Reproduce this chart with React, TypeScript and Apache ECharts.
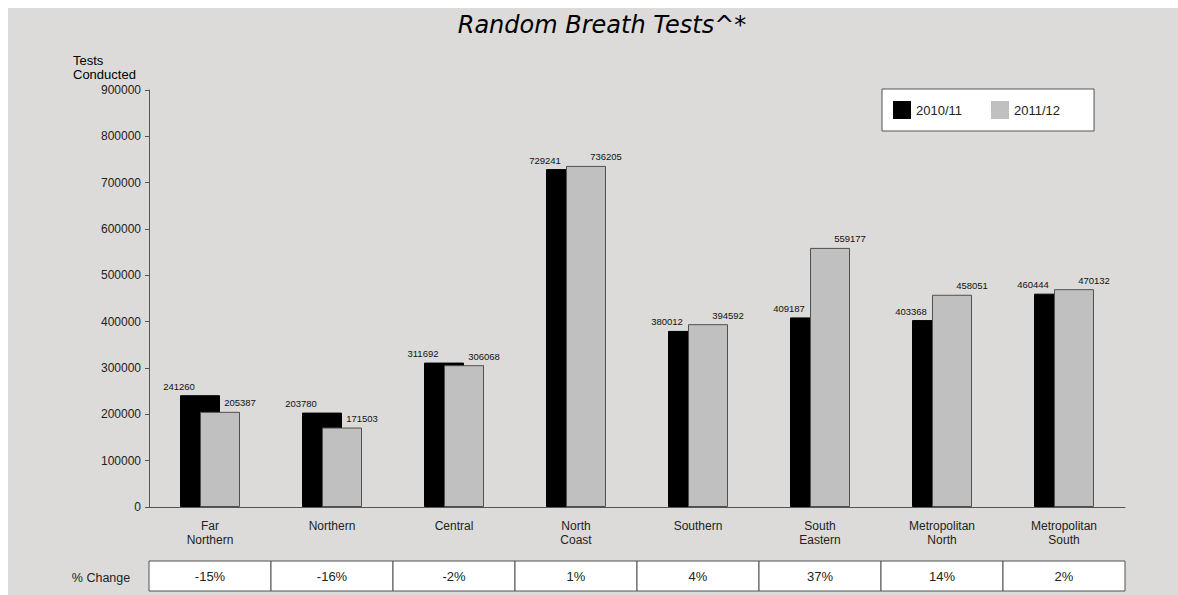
import React, { useEffect, useRef } from "react";
import * as echarts from "echarts";

const categories = [
  "Far\nNorthern",
  "Northern",
  "Central",
  "North\nCoast",
  "Southern",
  "South\nEastern",
  "Metropolitan\nNorth",
  "Metropolitan\nSouth",
];
const series2010 = [241260, 203780, 311692, 729241, 380012, 409187, 403368, 460444];
const series2011 = [205387, 171503, 306068, 736205, 394592, 559177, 458051, 470132];
const pctChange = ["-15%", "-16%", "-2%", "1%", "4%", "37%", "14%", "2%"];
const seriesNames = ["2010/11", "2011/12"];

const FONT = "'Liberation Sans', Arial, sans-serif";

export default function App() {
  const ref = useRef<HTMLDivElement>(null);
  useEffect(() => {
    if (!ref.current) return;
    const chart = echarts.init(ref.current, null, { renderer: "svg" });
    const option: any = {
      animation: false,
      backgroundColor: "#DCDBD9",
      textStyle: { fontFamily: FONT },
      title: {
        text: "Random Breath Tests^*",
        left: 589,
        textAlign: "center",
        top: 0,
        textStyle: {
          fontFamily: "'DejaVu Sans', sans-serif",
          fontStyle: "italic",
          fontWeight: "normal",
          fontSize: 24,
          color: "#000",
        },
      },
      legend: {
        left: 874,
        top: 81,
        orient: "horizontal",
        backgroundColor: "#fff",
        borderColor: "#555",
        borderWidth: 1,
        padding: [12, 34, 12, 11],
        itemWidth: 18,
        itemHeight: 18,
        itemGap: 29,
        icon: "rect",
        data: seriesNames,
        itemStyle: { borderWidth: 0 },
        textStyle: { fontFamily: FONT, fontSize: 13, color: "#222" },
      },
      graphic: [
        {
          type: "text",
          left: 65,
          top: 45,
          style: {
            text: "Tests\nConducted",
            font: `13px ${FONT}`,
            fill: "#000",
            lineHeight: 14,
          },
        },
        {
          type: "text",
          x: 93,
          y: 570,
          style: {
            text: "% Change",
            font: `12.5px ${FONT}`,
            fill: "#222",
            align: "center",
            verticalAlign: "middle",
          },
        },
      ],
      grid: [
        { left: 141, right: 53, top: 82, bottom: 88 },
        { left: 141, right: 53, top: 553, height: 30 },
      ],
      xAxis: [
        {
          type: "category",
          gridIndex: 0,
          data: categories,
          axisLine: { lineStyle: { color: "#555", width: 1 } },
          axisTick: { show: false },
          axisLabel: {
            margin: 12,
            fontSize: 12,
            lineHeight: 14,
            color: "#222",
            fontFamily: FONT,
            interval: 0,
          },
        },
        {
          type: "category",
          gridIndex: 1,
          data: pctChange,
          show: false,
        },
      ],
      yAxis: [
        {
          type: "value",
          gridIndex: 0,
          min: 0,
          max: 900000,
          interval: 100000,
          axisLine: { show: true, lineStyle: { color: "#555", width: 1 } },
          axisTick: { show: true, length: 4, lineStyle: { color: "#555" } },
          splitLine: { show: false },
          axisLabel: {
            margin: 8,
            fontSize: 12,
            color: "#222",
            fontFamily: FONT,
            formatter: (v: number) => String(v),
          },
        },
        {
          type: "value",
          gridIndex: 1,
          min: 0,
          max: 1,
          show: false,
        },
      ],
      series: [
        {
          name: seriesNames[0],
          type: "bar",
          data: series2010,
          barWidth: 40,
          barGap: "-50%",
          itemStyle: { color: "#000", borderColor: "#000", borderWidth: 1 },
          label: {
            show: true,
            position: "top",
            distance: 4,
            offset: [-21, 0],
            fontSize: 9.5,
            color: "#111",
            fontFamily: FONT,
          },
        },
        {
          name: seriesNames[1],
          type: "bar",
          data: series2011,
          barWidth: 40,
          barGap: "-50%",
          itemStyle: { color: "#C0C0C0", borderColor: "#505050", borderWidth: 1 },
          label: {
            show: true,
            position: "top",
            distance: 4,
            offset: [20, 0],
            fontSize: 9.5,
            color: "#111",
            fontFamily: FONT,
          },
        },
        {
          type: "custom",
          xAxisIndex: 1,
          yAxisIndex: 1,
          data: pctChange.map((p, i) => [i, p]),
          renderItem: (params: any, api: any) => {
            const idx = api.value(0);
            const top = api.coord([idx, 1]);
            const bottom = api.coord([idx, 0]);
            const w = api.size([1, 0])[0];
            const h = bottom[1] - top[1];
            return {
              type: "group",
              children: [
                {
                  type: "rect",
                  shape: { x: top[0] - w / 2, y: top[1], width: w, height: h },
                  style: { fill: "#fff", stroke: "#505050", lineWidth: 1 },
                },
                {
                  type: "text",
                  x: top[0],
                  y: top[1] + h / 2,
                  style: {
                    text: pctChange[idx],
                    font: `13px ${FONT}`,
                    fill: "#222",
                    align: "center",
                    verticalAlign: "middle",
                  },
                },
              ],
            };
          },
        },
      ],
    };
    chart.setOption(option);
    return () => chart.dispose();
  }, []);
  return (
    <div
      ref={ref}
      style={{ position: "absolute", left: 8, top: 8, width: 1170, height: 587 }}
    />
  );
}
